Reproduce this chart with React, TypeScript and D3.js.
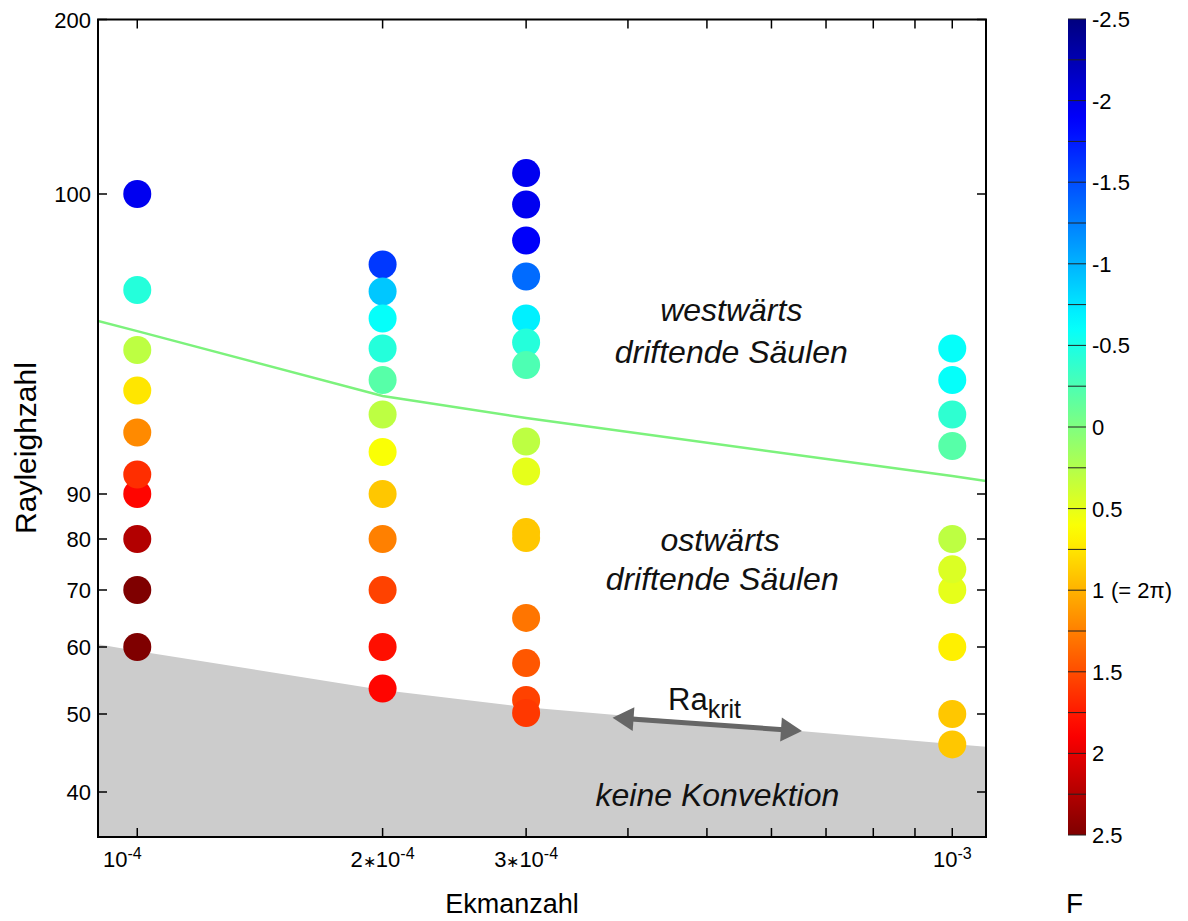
import React from "react";
import * as d3 from "d3";

// Ekman numbers of the four measurement series
const ekmanValues = [1e-4, 2e-4, 3e-4, 1e-3];

// Rayleigh numbers and drift frequencies F of each series (listed in drawing order)
const rayleigh1 = [100, 96.8, 94.8, 93.45, 92.05, 90, 90.65, 80, 70, 60];
const drift1 = [-1.95, -0.45, 0.3, 0.75, 1.2, 1.85, 1.65, 2.25, 2.5, 2.5];

const rayleigh2 = [97.65, 96.75, 95.85, 94.85, 93.8, 92.65, 91.4, 90, 80, 70, 60, 53.8];
const drift2 = [-1.6, -0.9, -0.6, -0.45, -0.2, 0.3, 0.6, 0.9, 1.25, 1.55, 1.8, 1.85];

const rayleigh3 = [112, 99.65, 98.45, 97.25, 95.85, 95.05, 94.3, 91.75, 90.75, 81.55, 80.2, 65.1, 57.6, 52.1, 50.15];
const drift3 = [-1.95, -1.95, -1.9, -1.35, -0.7, -0.45, -0.25, 0.3, 0.5, 0.9, 0.9, 1.3, 1.45, 1.55, 1.6];

const rayleigh4 = [94.85, 93.8, 92.65, 91.6, 80, 70, 74.05, 60, 50, 46.1];
const drift4 = [-0.6, -0.6, -0.4, -0.2, 0.3, 0.5, 0.45, 0.7, 0.9, 0.9];

// Boundary curves (Ekman number, Rayleigh number)
const boundaryEkman = [8.95e-5, 1e-4, 2e-4, 3e-4, 1e-3, 1.1e-3];
const criticalRayleigh = [60.5, 59.4, 53.6, 51.0, 46.15, 45.8];
const directionRayleigh = [95.77, 95.43, 93.27, 92.53, 90.6, 90.43];

// Axis ticks
const yTicks = [40, 50, 60, 70, 80, 90, 100, 200];
const yBreaks = [34.2, 40, 50, 60, 70, 80, 90, 100, 200];
const xTicks = [1e-4, 2e-4, 3e-4, 4e-4, 5e-4, 6e-4, 7e-4, 8e-4, 9e-4, 1e-3];
const xLabelled = [
  { value: 1e-4, mant: "", exp: "-4" },
  { value: 2e-4, mant: "2", exp: "-4" },
  { value: 3e-4, mant: "3", exp: "-4" },
  { value: 1e-3, mant: "", exp: "-3" },
];
const colorTicks = d3.range(-2.5, 2.5001, 0.25);
const colorLabels = [-2.5, -2, -1.5, -1, -0.5, 0, 0.5, 1, 1.5, 2, 2.5];

const FONT = "'Liberation Sans', Arial, Helvetica, sans-serif";

export default function App() {
  const left = 98, right = 986, top = 19.5, bottom = 837;

  const x = d3.scaleLog().domain([8.95e-5, 1.1e-3]).range([left, right]);
  const y = d3
    .scaleLinear()
    .domain(yBreaks)
    .range([bottom, 792, 714, 647, 590, 539, 494, 194, top]);

  // jet colour map, reversed so that negative F is blue
  const jet = d3
    .scaleLinear<string>()
    .domain([-2.5, -1.875, -0.625, 0.625, 1.875, 2.5])
    .range(["#00007f", "#0000ff", "#00ffff", "#ffff00", "#ff0000", "#7f0000"])
    .clamp(true);

  const cbar = d3.scaleLinear().domain([-2.5, 2.5]).range([19, 835]);
  const cbLeft = 1068, cbWidth = 18;

  const series = [
    { e: ekmanValues[0], ra: rayleigh1, f: drift1 },
    { e: ekmanValues[1], ra: rayleigh2, f: drift2 },
    { e: ekmanValues[2], ra: rayleigh3, f: drift3 },
    { e: ekmanValues[3], ra: rayleigh4, f: drift4 },
  ];
  const points = series.flatMap((s) => s.ra.map((ra, i) => ({ e: s.e, ra, f: s.f[i] })));

  const boundary = boundaryEkman.map((e, i) => ({ e, crit: criticalRayleigh[i], dir: directionRayleigh[i] }));
  const area = d3
    .area<{ e: number; crit: number }>()
    .x((d) => x(d.e))
    .y0(bottom)
    .y1((d) => y(d.crit));
  const line = d3
    .line<{ e: number; dir: number }>()
    .x((d) => x(d.e))
    .y((d) => y(d.dir));

  // Arrow marking the critical Rayleigh number
  const a1 = [x(3.83e-4), y(49.53)];
  const a2 = [x(6.54e-4), y(47.82)];
  const ang = Math.atan2(a2[1] - a1[1], a2[0] - a1[0]);
  const head = (tip: number[], dir: number) => {
    const L = 21, Wd = 12;
    const ux = Math.cos(ang) * dir, uy = Math.sin(ang) * dir;
    const bx = tip[0] - ux * L, by = tip[1] - uy * L;
    return `M${tip[0]},${tip[1]} L${bx - uy * Wd},${by + ux * Wd} L${bx + uy * Wd},${by - ux * Wd} Z`;
  };

  const gradStops = d3.range(0, 1.0001, 0.02);

  return (
    <svg
      width={1188}
      height={921}
      style={{ position: "absolute", left: 0, top: 0, display: "block", background: "#fff" }}
      fontFamily={FONT}
    >
      <defs>
        <clipPath id="plotClip">
          <rect x={left} y={top} width={right - left} height={bottom - top} />
        </clipPath>
        <linearGradient id="jetBar" x1="0" y1="0" x2="0" y2="1">
          {gradStops.map((t) => (
            <stop key={t} offset={t} stopColor={jet(-2.5 + 5 * t)} />
          ))}
        </linearGradient>
      </defs>

      <g clipPath="url(#plotClip)">
        <path d={area(boundary) || ""} fill="#cccccc" />
        <path d={line(boundary) || ""} fill="none" stroke="#7cf27c" strokeWidth={2.5} />
      </g>

      {points.map((p, i) => (
        <circle key={i} cx={x(p.e)} cy={y(p.ra)} r={14} fill={jet(p.f)} />
      ))}

      {/* arrow */}
      <line x1={a1[0] + Math.cos(ang) * 15} y1={a1[1] + Math.sin(ang) * 15} x2={a2[0] - Math.cos(ang) * 15} y2={a2[1] - Math.sin(ang) * 15} stroke="#666" strokeWidth={5} />
      <path d={head(a1, -1)} fill="#666" />
      <path d={head(a2, 1)} fill="#666" />
      <text x={x(4.48e-4)} y={y(50.6)} fontSize={31} fill="#111">
        Ra<tspan fontSize={25} dy={8}>krit</tspan>
      </text>

      {/* region labels */}
      <g fontStyle="italic" fontSize={32} fill="#111" textAnchor="middle">
        <text x={x(5.356e-4)} y={y(95.77)}>westwärts</text>
        <text x={x(5.356e-4)} y={y(94.37)}>driftende Säulen</text>
        <text x={x(5.19e-4)} y={y(77.65)}>ostwärts</text>
        <text x={x(5.22e-4)} y={y(70)}>driftende Säulen</text>
        <text x={x(5.15e-4)} y={y(38.2)}>keine Konvektion</text>
      </g>

      {/* frame and ticks */}
      <rect x={left} y={top} width={right - left} height={bottom - top} fill="none" stroke="#000" strokeWidth={2} />
      {xTicks.map((t) => (
        <g key={t} stroke="#000" strokeWidth={1.5}>
          <line x1={x(t)} x2={x(t)} y1={bottom} y2={bottom - 9} />
          <line x1={x(t)} x2={x(t)} y1={top} y2={top + 9} />
        </g>
      ))}
      {yTicks.map((t) => (
        <g key={t} stroke="#000" strokeWidth={1.5}>
          <line x1={left} x2={left + 9} y1={y(t)} y2={y(t)} />
          <line x1={right} x2={right - 9} y1={y(t)} y2={y(t)} />
        </g>
      ))}
      {yTicks.map((t) => (
        <text key={t} x={91} y={y(t) + 8} fontSize={22} textAnchor="end" fill="#000">
          {t}
        </text>
      ))}
      {xLabelled.map((l, i) => (
        <text
          key={l.value}
          x={x(l.value) + (i === 0 ? -15 : 0)}
          y={867}
          fontSize={22}
          textAnchor="middle"
          fill="#000"
        >
          {l.mant && <tspan>{l.mant}</tspan>}
          {l.mant && <tspan fontSize={16}>∗</tspan>}
          <tspan>10</tspan>
          <tspan fontSize={16} dy={-8}>{l.exp}</tspan>
        </text>
      ))}

      {/* axis titles */}
      <text x={512} y={913} fontSize={27} textAnchor="middle" fill="#000">Ekmanzahl</text>
      <text transform="translate(36,448) rotate(-90)" fontSize={30} textAnchor="middle" fill="#000">Rayleighzahl</text>

      {/* colour bar */}
      <rect x={cbLeft} y={cbar(-2.5)} width={cbWidth} height={cbar(2.5) - cbar(-2.5)} fill="url(#jetBar)" />
      {colorTicks.map((t) => (
        <line key={t} x1={cbLeft} x2={cbLeft + cbWidth} y1={cbar(t)} y2={cbar(t)} stroke="#222" strokeWidth={1} />
      ))}
      {colorLabels.map((t) => (
        <text key={t} x={1092} y={cbar(t) + 8} fontSize={22} fill="#000">
          {t === 1 ? (
            <>
              1<tspan x={1111}>(= 2π)</tspan>
            </>
          ) : (
            t
          )}
        </text>
      ))}
      <text x={1066} y={913} fontSize={28} fill="#000">F</text>
    </svg>
  );
}
